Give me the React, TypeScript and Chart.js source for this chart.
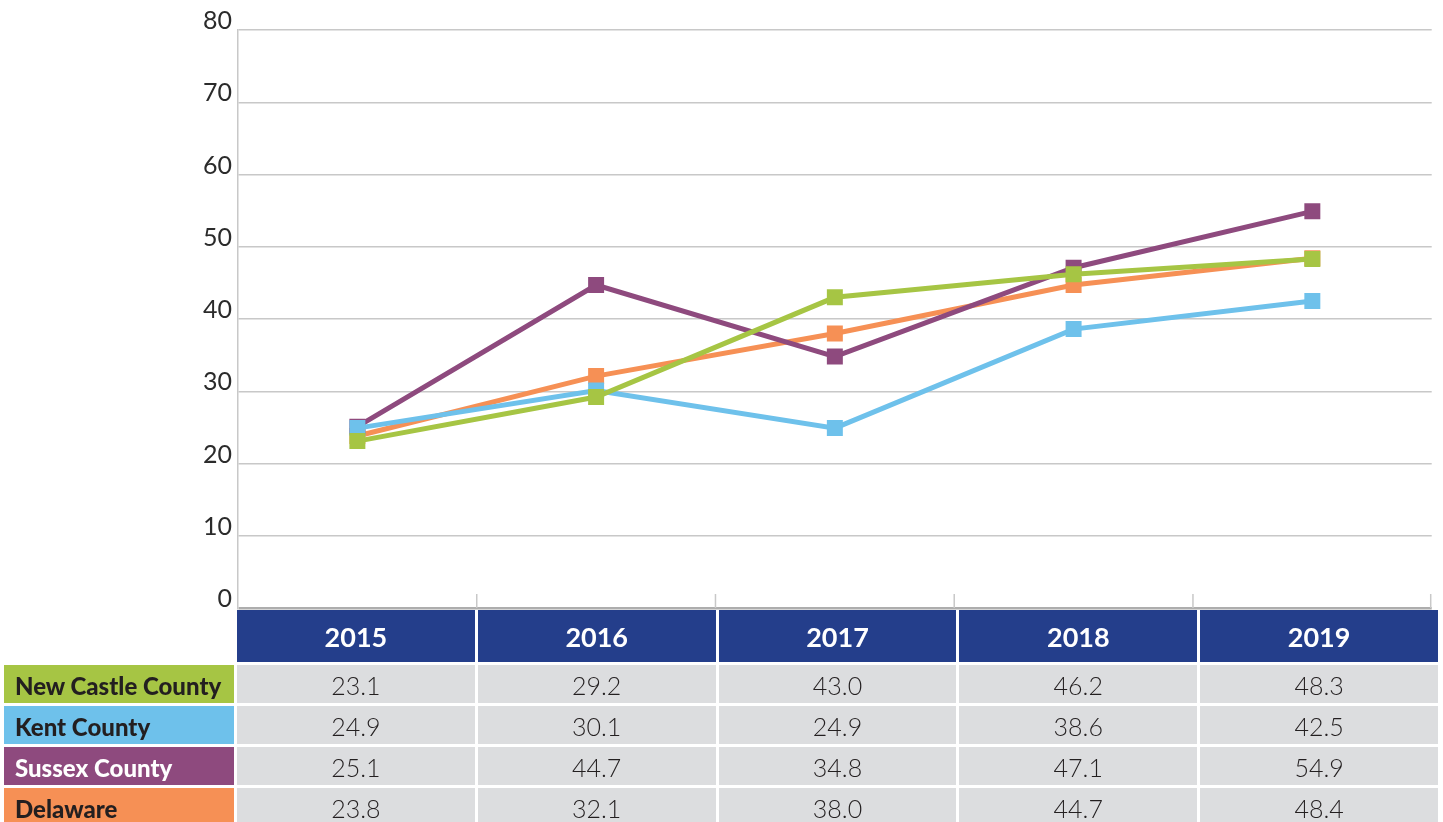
import React, { useEffect, useRef } from "react";
import { Chart, registerables } from "chart.js";

Chart.register(...registerables);

const years = ["2015", "2016", "2017", "2018", "2019"];
const newCastle = [23.1, 29.2, 43.0, 46.2, 48.3];
const kent = [24.9, 30.1, 24.9, 38.6, 42.5];
const sussex = [25.1, 44.7, 34.8, 47.1, 54.9];
const delaware = [23.8, 32.1, 38.0, 44.7, 48.4];

const seriesNames = ["New Castle County", "Kent County", "Sussex County", "Delaware"];
const seriesColors = ["#A6C544", "#6EC1EB", "#8E4A7E", "#F69055"];
const labelTextColors = ["#231F20", "#231F20", "#FFFFFF", "#231F20"];
const seriesValues = [newCastle, kent, sussex, delaware];

const yMin = 0;
const yMax = 80;
const yStep = 10;

const NAVY = "#243E8B";
const CELL = "#DCDDDF";

const boundaryTicks = {
  id: "boundaryTicks",
  beforeDatasetsDraw(chart: any) {
    const x = chart.scales.x;
    const area = chart.chartArea;
    const ctx = chart.ctx;
    const n = chart.data.labels.length;
    ctx.save();
    ctx.strokeStyle = "#C8C8C8";
    ctx.lineWidth = 1.5;
    for (let i = 1; i <= n; i++) {
      const left = x.getPixelForValue(i - 1);
      const right = i < n ? x.getPixelForValue(i) : area.right + (area.right - left);
      const bx = i < n ? (left + right) / 2 : area.right - 1;
      ctx.beginPath();
      ctx.moveTo(bx, area.bottom - 14);
      ctx.lineTo(bx, area.bottom);
      ctx.stroke();
    }
    ctx.restore();
  },
};

export default function App() {
  const canvasRef = useRef<HTMLCanvasElement | null>(null);

  useEffect(() => {
    if (!canvasRef.current) return;
    const chart = new Chart(canvasRef.current, {
      type: "line",
      data: {
        labels: years,
        datasets: seriesNames.map((name, i) => ({
          label: name,
          data: seriesValues[i],
          borderColor: seriesColors[i],
          backgroundColor: seriesColors[i],
          borderWidth: 5,
          pointStyle: "rect",
          pointRadius: 11.3,
          pointHoverRadius: 11.3,
          pointBorderWidth: 0,
          tension: 0,
          fill: false,
        })),
      },
      options: {
        responsive: false,
        animation: false,
        events: [],
        layout: { padding: { top: 30, right: 5, bottom: 0, left: 0 } },
        plugins: {
          legend: { display: false },
          tooltip: { enabled: false },
          title: { display: false },
        },
        scales: {
          x: {
            display: false,
            offset: true,
          },
          y: {
            min: yMin,
            max: yMax,
            afterFit(scale: any) {
              scale.width = 238;
            },
            ticks: {
              stepSize: yStep,
              padding: 6,
              labelOffset: -9,
              color: "#2B2B2B",
              font: { family: "Lato", size: 25, weight: "400", lineHeight: 1.2 },
            },
            border: { display: true, color: "#C8C8C8", width: 1.5 },
            grid: {
              drawTicks: false,
              color: (c: any) => (c.tick && c.tick.value === 0 ? "#ADADAD" : "#C8C8C8"),
              lineWidth: (c: any) => (c.tick && c.tick.value === 0 ? 2.5 : 1.5),
            },
          },
        },
      },
      plugins: [boundaryTicks],
    });
    return () => chart.destroy();
  }, []);

  const cellBase: React.CSSProperties = {
    display: "flex",
    alignItems: "center",
    justifyContent: "center",
    boxSizing: "border-box",
  };

  return (
    <div style={{ position: "absolute", left: 0, top: 0, width: 1443, height: 822, background: "#fff", overflow: "hidden" }}>
      <canvas ref={canvasRef} width={1443} height={629} style={{ position: "absolute", left: 0, top: 0, display: "block" }} />
      <div
        style={{
          position: "absolute",
          left: 4,
          top: 610,
          width: 1434,
          display: "grid",
          gridTemplateColumns: "230px repeat(5, 1fr)",
          gridTemplateRows: "52px repeat(4, 38px)",
          columnGap: 3,
          rowGap: 3,
        }}
      >
        <div style={{ background: "#fff" }} />
        {years.map((y) => (
          <div
            key={y}
            style={{
              ...cellBase,
              background: NAVY,
              color: "#fff",
              fontFamily: "Lato",
              fontWeight: 700,
              fontSize: 27,
            }}
          >
            {y}
          </div>
        ))}
        {seriesNames.map((name, i) => (
          <React.Fragment key={name}>
            <div
              style={{
                ...cellBase,
                justifyContent: "flex-start",
                paddingLeft: 11,
                paddingTop: 2,
                background: seriesColors[i],
                color: labelTextColors[i],
                fontFamily: "Lato",
                fontWeight: 900,
                fontSize: 24,
                whiteSpace: "nowrap",
              }}
            >
              {name}
            </div>
            {seriesValues[i].map((v, j) => (
              <div
                key={j}
                style={{
                  ...cellBase,
                  paddingTop: 2,
                  background: CELL,
                  color: "#231F20",
                  fontFamily: "Lato",
                  fontWeight: 300,
                  fontSize: 25,
                }}
              >
                {v.toFixed(1)}
              </div>
            ))}
          </React.Fragment>
        ))}
      </div>
    </div>
  );
}
